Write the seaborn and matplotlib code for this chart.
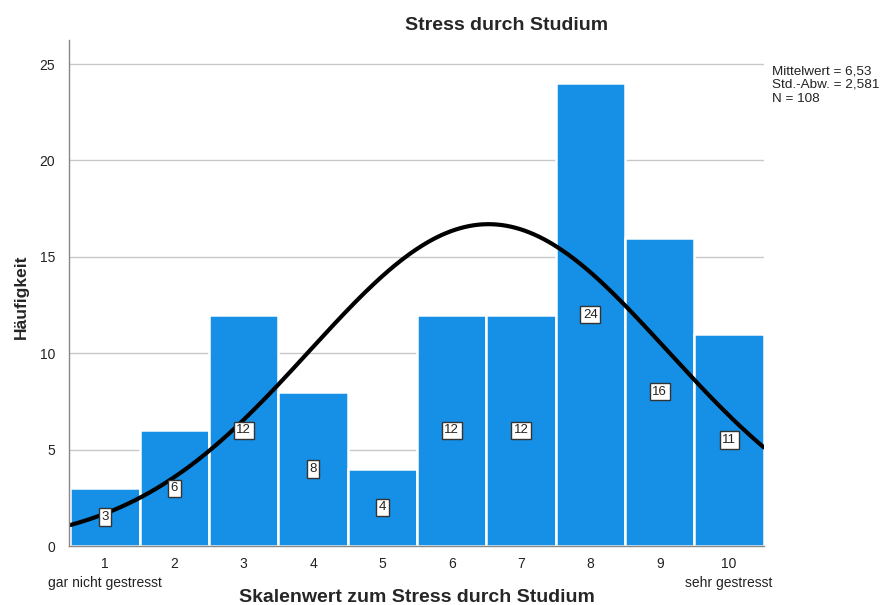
import numpy as np
import pandas as pd
import matplotlib
matplotlib.use("Agg")
import matplotlib.pyplot as plt
import seaborn as sns

# data
scale_values = [1, 2, 3, 4, 5, 6, 7, 8, 9, 10]
counts = [3, 6, 12, 8, 4, 12, 12, 24, 16, 11]
tick_labels = ["1\ngar nicht gestresst", "2", "3", "4", "5", "6", "7", "8", "9",
               "10\nsehr gestresst"]
mean_value = 6.53
std_value = 2.581
n_total = 108

sns.set_theme(style="white")
plt.rcParams['font.family'] = ['Liberation Sans', 'DejaVu Sans']

df = pd.DataFrame({"wert": scale_values, "anzahl": counts})

fig = plt.figure(figsize=(8.8, 6.05), dpi=100)
ax = fig.add_axes([0.0784, 0.0975, 0.7896, 0.8365])

ax.set_axisbelow(True)
ax.yaxis.grid(True, color="#c8c8c8", linewidth=1)

sns.histplot(data=df, x="wert", weights="anzahl", discrete=True, shrink=1,
             color="#1590e6", alpha=1, edgecolor="white", linewidth=1.8, ax=ax)

# normal curve scaled to counts (bin width 1)
xs = np.linspace(0.5, 10.5, 300)
ys = n_total / (std_value * np.sqrt(2 * np.pi)) * np.exp(-0.5 * ((xs - mean_value) / std_value) ** 2)
sns.lineplot(x=xs, y=ys, color="black", linewidth=3, ax=ax)

# value labels in the middle of each bar
for xv, c in zip(scale_values, counts):
    ax.text(xv, c / 2, str(c), ha="center", va="center", fontsize=9.5, color="#222222",
            bbox=dict(boxstyle="square,pad=0.2", facecolor="white", edgecolor="#333333", linewidth=1))

ax.set_xlim(0.48, 10.5)
ax.set_ylim(0, 26.25)
ax.set_xticks(scale_values)
ax.set_xticklabels(tick_labels, fontsize=10, color="#222222", linespacing=1.4)
ax.set_yticks([0, 5, 10, 15, 20, 25])
ax.set_yticklabels(["0", "5", "10", "15", "20", "25"], fontsize=10, color="#222222")
ax.tick_params(axis="y", length=4, color="#888888", pad=6)
ax.tick_params(axis="x", length=0, pad=8)

for side in ["top", "right"]:
    ax.spines[side].set_visible(False)
for side in ["left", "bottom"]:
    ax.spines[side].set_color("#888888")
    ax.spines[side].set_linewidth(1)

ax.set_xlabel("")
ax.set_ylabel("")
fig.text(0.474, 1 - 597 / 605, "Skalenwert zum Stress durch Studium", ha="center", va="center",
         fontsize=14, fontweight="bold")
fig.text(21 / 880, 1 - 297 / 605, "Häufigkeit", ha="center", va="center", rotation=90,
         fontsize=12.5, fontweight="bold")
fig.text(0.576, 1 - 25 / 605, "Stress durch Studium", ha="center", va="center",
         fontsize=14, fontweight="bold")

fig.text(772 / 880, 1 - 65 / 605, "Mittelwert = 6,53\nStd.-Abw. = 2,581\nN = 108",
         ha="left", va="top", fontsize=9.7, linespacing=1.2, color="#222222")

fig.savefig("out.png", dpi=100)
